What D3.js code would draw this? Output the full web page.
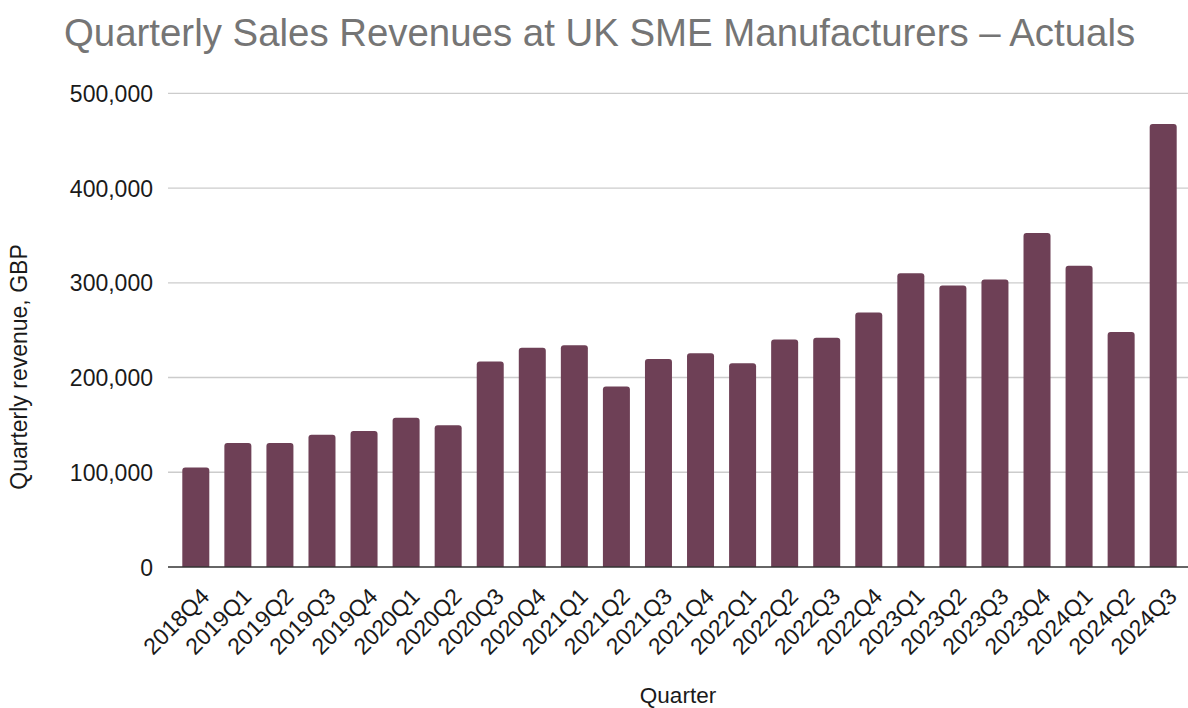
<!DOCTYPE html>
<html>
<head>
<meta charset="utf-8">
<script src="https://cdn.jsdelivr.net/npm/d3@7/dist/d3.min.js"></script>
<style>
  html, body { margin: 0; padding: 0; background: #ffffff; }
  svg { display: block; font-family: "Liberation Sans", Arial, sans-serif; }
</style>
</head>
<body>
<svg id="chart" width="1188" height="708"></svg>
<script>
// Quarterly revenue series (GBP)
const quarters = [
  "2018Q4", "2019Q1", "2019Q2", "2019Q3", "2019Q4",
  "2020Q1", "2020Q2", "2020Q3", "2020Q4",
  "2021Q1", "2021Q2", "2021Q3", "2021Q4",
  "2022Q1", "2022Q2", "2022Q3", "2022Q4",
  "2023Q1", "2023Q2", "2023Q3", "2023Q4",
  "2024Q1", "2024Q2", "2024Q3"
];
const revenues = [
  105000, 131000, 131000, 139500, 143500,
  157500, 149500, 217000, 231500,
  234000, 190500, 219500, 225500,
  215000, 240000, 242000, 268500,
  310000, 297000, 303500, 352500,
  318000, 248000, 467500
];
const yTicks = [0, 100000, 200000, 300000, 400000, 500000];

const titleText = "Quarterly Sales Revenues at UK SME Manufacturers \u2013 Actuals";
const xTitle = "Quarter";
const yTitle = "Quarterly revenue, GBP";

const svg = d3.select("#chart");
const plot = { left: 168, right: 1191, top: 93.3, bottom: 567 };

const x = d3.scaleBand()
  .domain(quarters)
  .range([plot.left, plot.right])
  .paddingInner(0.358)
  .paddingOuter(0.34);

const y = d3.scaleLinear()
  .domain([0, 500000])
  .range([plot.bottom, plot.top]);

// Title
svg.append("text")
  .attr("x", 64)
  .attr("y", 46)
  .attr("fill", "#757575")
  .attr("font-size", 38.4)
  .text(titleText);

// Horizontal gridlines
svg.append("g")
  .selectAll("line")
  .data(yTicks.filter(d => d > 0))
  .join("line")
  .attr("x1", plot.left)
  .attr("x2", 1188)
  .attr("y1", d => y(d))
  .attr("y2", d => y(d))
  .attr("stroke", "#cccccc")
  .attr("stroke-width", 1.3);

// Y axis labels
const yAxis = d3.axisLeft(y)
  .tickValues(yTicks)
  .tickFormat(d3.format(","))
  .tickSize(0)
  .tickPadding(15);
const yg = svg.append("g")
  .attr("transform", `translate(${plot.left},0)`)
  .call(yAxis);
yg.select(".domain").remove();
yg.selectAll("text")
  .attr("font-size", 23)
  .attr("fill", "#1a1a1a")
  .attr("font-family", "Liberation Sans, Arial, sans-serif")
  .attr("dy", "0.35em");

// Bars with slightly rounded top corners
const r = 3;
function barPath(d, i) {
  const x0 = x(quarters[i]);
  const w = x.bandwidth();
  const yt = y(d);
  const yb = y(0);
  return `M${x0},${yb}V${yt + r}Q${x0},${yt} ${x0 + r},${yt}` +
         `H${x0 + w - r}Q${x0 + w},${yt} ${x0 + w},${yt + r}V${yb}Z`;
}
svg.append("g")
  .selectAll("path")
  .data(revenues)
  .join("path")
  .attr("d", (d, i) => barPath(d, i))
  .attr("fill", "#6e4056");

// X axis with rotated quarter labels
const xAxis = d3.axisBottom(x).tickSize(0);
const xg = svg.append("g")
  .attr("transform", `translate(0,${plot.bottom})`)
  .call(xAxis);
xg.select(".domain")
  .attr("d", `M${plot.left},0H1188`)
  .attr("stroke", "#333333")
  .attr("stroke-width", 1.3);
xg.selectAll("text")
  .attr("font-size", 23)
  .attr("fill", "#1a1a1a")
  .attr("font-family", "Liberation Sans, Arial, sans-serif")
  .attr("x", 0)
  .attr("y", 0)
  .attr("dy", 0)
  .attr("text-anchor", "end")
  .attr("transform", "translate(15,31) rotate(-45)");

// Axis titles
svg.append("text")
  .attr("x", (plot.left + 1188) / 2)
  .attr("y", 703)
  .attr("text-anchor", "middle")
  .attr("font-size", 22.5)
  .attr("fill", "#1a1a1a")
  .text(xTitle);

svg.append("text")
  .attr("transform", "translate(27,367) rotate(-90)")
  .attr("text-anchor", "middle")
  .attr("font-size", 23)
  .attr("fill", "#1a1a1a")
  .text(yTitle);
</script>
</body>
</html>
